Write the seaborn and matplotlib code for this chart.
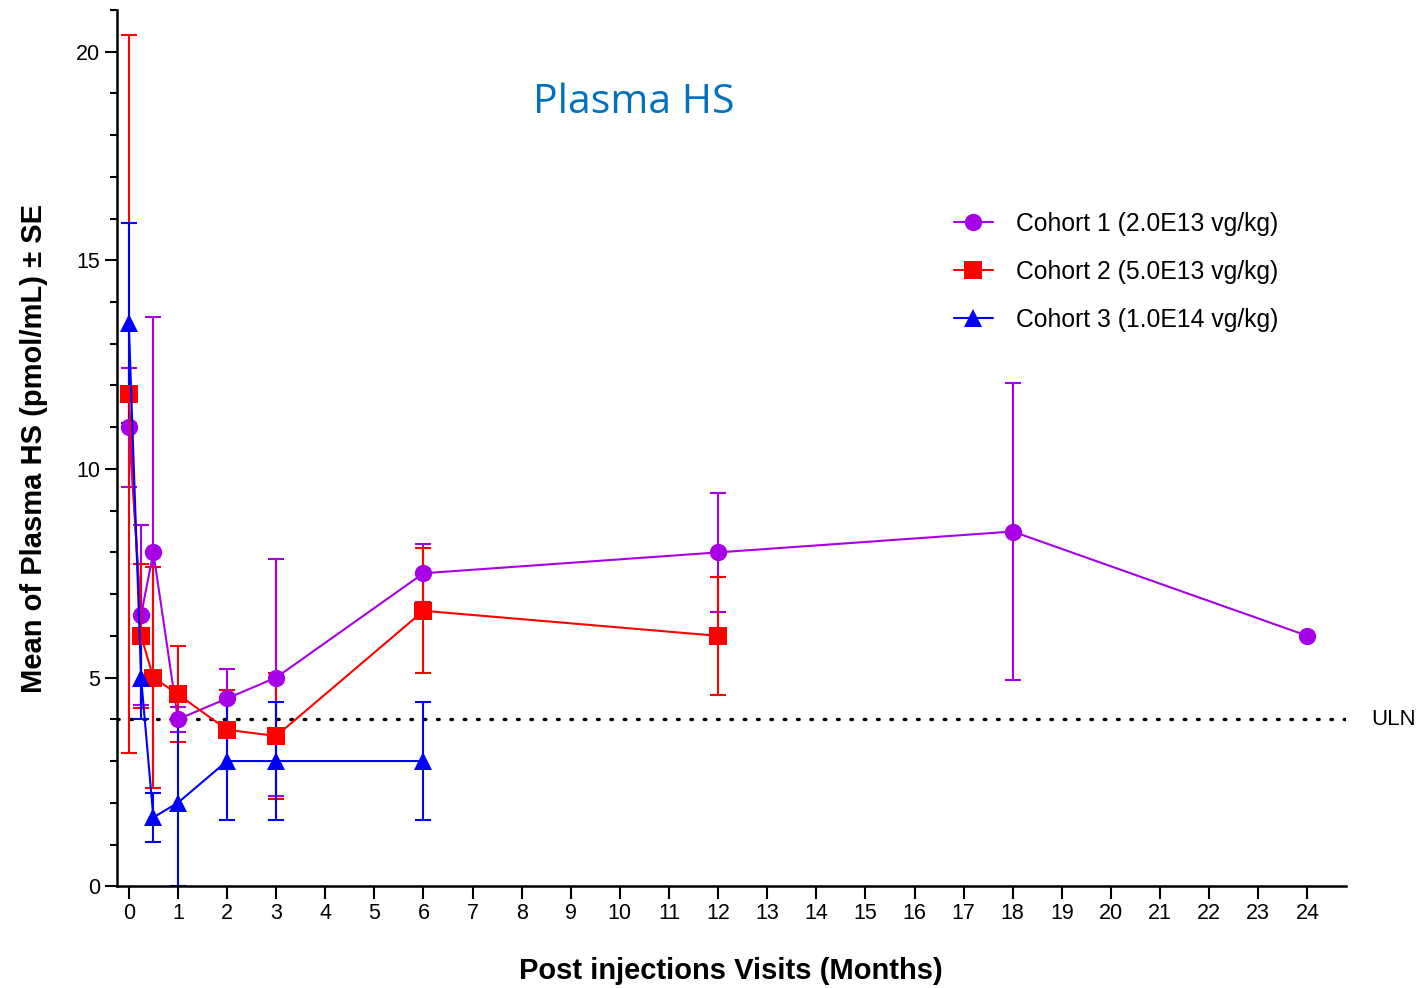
import numpy as np
import pandas as pd
import matplotlib
matplotlib.use("Agg")
import matplotlib.pyplot as plt
from matplotlib.ticker import MultipleLocator
import seaborn as sns

# data (months, mean, SE)
c1_months = [0, 0.25, 0.5, 1, 2, 3, 6, 12, 18, 24]
c1_mean = [11.0, 6.5, 8.0, 4.0, 4.5, 5.0, 7.5, 8.0, 8.5, 6.0]
c1_se = [1.43, 2.15, 5.65, 0.3, 0.7, 2.84, 0.7, 1.43, 3.55, 0.0]

c2_months = [0, 0.25, 0.5, 1, 2, 3, 6, 12]
c2_mean = [11.8, 6.0, 5.0, 4.6, 3.75, 3.6, 6.6, 6.0]
c2_se = [8.6, 1.73, 2.65, 1.15, 0.95, 1.5, 1.5, 1.42]

c3_months = [0, 0.25, 0.5, 1, 2, 3, 6]
c3_mean = [13.5, 5.0, 1.65, 2.0, 3.0, 3.0, 3.0]
c3_se = [2.4, 1.0, 0.58, 2.0, 1.42, 1.42, 1.42]

cohorts = ["Cohort 1 (2.0E13 vg/kg)", "Cohort 2 (5.0E13 vg/kg)", "Cohort 3 (1.0E14 vg/kg)"]
colors = ["#A800E6", "#FF0000", "#0000FF"]
markers = ["o", "s", "^"]
uln = 4

frames = []
for name, m, y, se in zip(cohorts, [c1_months, c2_months, c3_months],
                          [c1_mean, c2_mean, c3_mean], [c1_se, c2_se, c3_se]):
    frames.append(pd.DataFrame({"month": m, "mean": y, "se": se, "cohort": name}))
df = pd.concat(frames, ignore_index=True)

sns.set_style("ticks")
plt.rcParams["font.family"] = ["Liberation Sans", "DejaVu Sans"]
plt.rcParams["text.color"] = "black"
plt.rcParams["axes.labelcolor"] = "black"
plt.rcParams["xtick.color"] = "black"
plt.rcParams["ytick.color"] = "black"

fig = plt.figure(figsize=(14.24, 9.88), dpi=100)
ax = fig.add_axes([0.082, 0.103, 0.863, 0.887])

for name, col in zip(cohorts, colors):
    sub = df[df["cohort"] == name]
    ax.errorbar(sub["month"], sub["mean"], yerr=sub["se"], fmt="none",
                ecolor=col, elinewidth=1.5, capsize=6, capthick=1.5, zorder=2)

sns.lineplot(data=df, x="month", y="mean", hue="cohort", style="cohort",
             hue_order=cohorts, style_order=cohorts,
             palette=dict(zip(cohorts, colors)), markers=dict(zip(cohorts, markers)),
             dashes=False, linewidth=1.5, markersize=12.5, markeredgewidth=0,
             ax=ax, zorder=3)

ax.axhline(uln, color="black", linestyle=(0, (0.5, 3.5)), linewidth=2.4,
           dash_capstyle="round", zorder=1)
ax.text(1.021, uln, "ULN", transform=ax.get_yaxis_transform(), va="center",
        ha="left", fontsize=16)

ax.set_xlim(-0.245, 24.78)
ax.set_ylim(0, 21)
ax.xaxis.set_major_locator(MultipleLocator(1))
ax.yaxis.set_major_locator(MultipleLocator(5))
ax.yaxis.set_minor_locator(MultipleLocator(1))
ax.tick_params(axis="both", which="major", length=9, width=1.5, labelsize=15.5, pad=3)
ax.tick_params(axis="y", which="minor", length=5, width=1.5)
sns.despine(ax=ax)
for s in ["left", "bottom"]:
    ax.spines[s].set_linewidth(1.8)
    ax.spines[s].set_color("black")

ax.set_xlabel("Post injections Visits (Months)", fontsize=21, fontweight="bold", labelpad=24)
ax.set_ylabel("Mean of Plasma HS (pmol/mL) ± SE", fontsize=21, fontweight="bold", labelpad=20)

fig.text(634 / 1424, 1 - 103 / 988, "Plasma HS", color="#0070C0", fontsize=29.5,
         family=["Open Sans", "DejaVu Sans"], ha="center", va="center")

leg = ax.legend(loc="upper left", bbox_to_anchor=(0.673, 0.781), frameon=False,
                fontsize=17.8, handlelength=1.6, labelspacing=0.97, handletextpad=0.9,
                borderaxespad=0)

fig.savefig("out.png", dpi=100)
plt.close(fig)
